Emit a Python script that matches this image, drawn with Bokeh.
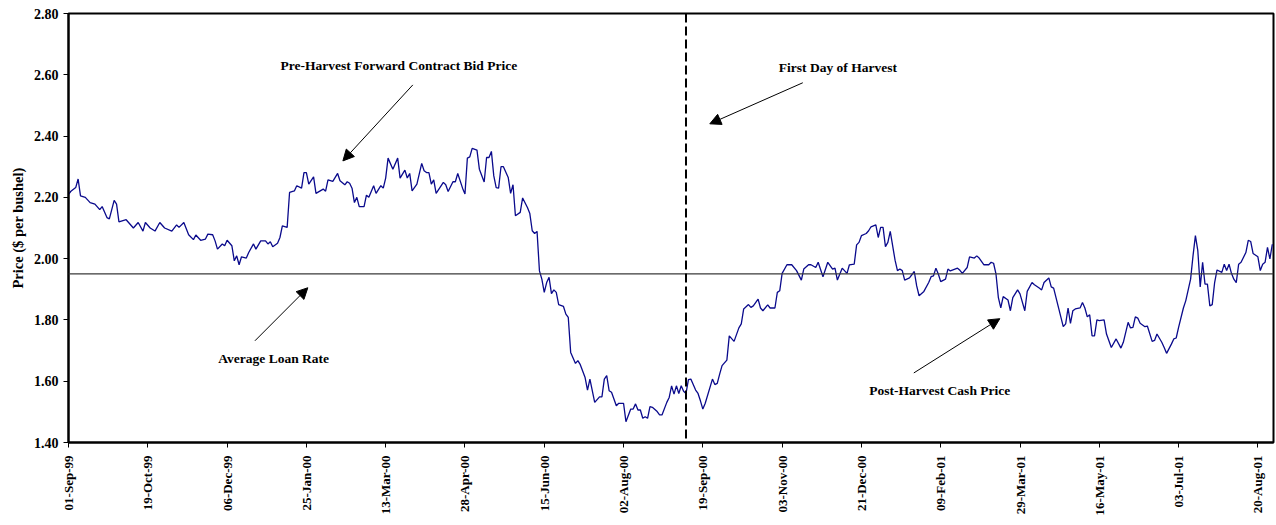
import math
from bokeh.plotting import figure
from bokeh.models import (Range1d, FixedTicker, Span, Label, Arrow, NormalHead,
                          PrintfTickFormatter)
from bokeh.embed import file_html
from bokeh.resources import INLINE

# ---- data (trading-day index, price $/bu) ----
days = [
    0, 1, 3, 4, 5, 7, 9, 11, 13, 14,
    16, 17, 19, 20, 21, 24, 27, 29, 31, 32,
    34, 36, 38, 40, 43, 45, 46, 48, 50, 52,
    53, 55, 57, 58, 60, 61, 62, 64, 65, 66,
    68, 69, 70, 71, 72, 74, 75, 77, 78, 80,
    82, 83, 84, 85, 87, 88, 89, 91, 92, 94,
    95, 97, 98, 99, 100, 102, 103, 106, 107, 108,
    110, 112, 113, 115, 116, 117, 118, 119, 120, 121,
    123, 124, 125, 127, 128, 130, 131, 132, 133, 135,
    137, 138, 140, 141, 142, 143, 145, 147, 148, 149,
    150, 151, 152, 153, 156, 157, 158, 160, 161, 162,
    164, 165, 166, 167, 168, 170, 171, 173, 174, 175,
    176, 177, 178, 179, 180, 181, 183, 184, 185, 186,
    188, 189, 191, 192, 193, 194, 195, 196, 197, 198,
    199, 200, 201, 202, 203, 204, 206, 207, 208, 209,
    211, 212, 213, 215, 216, 217, 219, 221, 222, 223,
    224, 225, 226, 227, 228, 229, 231, 232, 234, 235,
    236, 237, 238, 239, 240, 241, 242, 243, 245, 246,
    247, 249, 250, 251, 252, 253, 254, 255, 256, 257,
    258, 259, 261, 262, 263, 264, 265, 268, 269, 270,
    271, 272, 274, 275, 277, 279, 280, 281, 283, 284,
    285, 287, 288, 289, 291, 292, 294, 295, 296, 297,
    299, 301, 303, 305, 306, 308, 309, 311, 312, 314,
    316, 318, 319, 320, 322, 324, 325, 327, 328, 329,
    330, 332, 333, 334, 336, 337, 338, 339, 340, 341,
    342, 344, 345, 346, 347, 348, 350, 352, 353, 354,
    356, 358, 359, 360, 361, 362, 363, 365, 366, 367,
    370, 371, 372, 374, 375, 377, 378, 379, 381, 383,
    384, 385, 386, 387, 388, 389, 391, 392, 393, 395,
    396, 398, 399, 401, 402, 404, 405, 406, 408, 409,
    410, 412, 414, 415, 416, 417, 418, 419, 421, 422,
    423, 424, 425, 426, 427, 428, 429, 431, 432, 434,
    436, 438, 439, 441, 442, 443, 444, 445, 446, 448,
    449, 451, 452, 453, 455, 456, 457, 459, 460, 461,
    462, 464, 465, 467, 468, 469, 470, 471, 472, 473,
    474, 475, 476, 477, 478, 480, 481, 482, 483, 484,
    485, 486, 487, 488, 490, 491, 492, 493, 495, 496,
    497, 498, 499, 500, 501,
]
prices = [
    2.21, 2.22, 2.232, 2.26, 2.205, 2.20, 2.183, 2.178, 2.16, 2.17,
    2.134, 2.13, 2.19, 2.178, 2.12, 2.127, 2.10, 2.118, 2.09, 2.118,
    2.10, 2.09, 2.118, 2.10, 2.09, 2.11, 2.102, 2.118, 2.078, 2.062,
    2.077, 2.06, 2.064, 2.08, 2.078, 2.058, 2.031, 2.048, 2.042, 2.06,
    2.042, 1.993, 2.009, 1.98, 2.006, 2.002, 2.02, 2.048, 2.031, 2.058,
    2.058, 2.048, 2.055, 2.039, 2.05, 2.069, 2.107, 2.102, 2.216, 2.221,
    2.238, 2.23, 2.281, 2.281, 2.243, 2.267, 2.213, 2.227, 2.22, 2.257,
    2.252, 2.278, 2.254, 2.241, 2.251, 2.246, 2.23, 2.183, 2.20, 2.17,
    2.17, 2.207, 2.20, 2.238, 2.213, 2.238, 2.23, 2.263, 2.328, 2.292,
    2.328, 2.263, 2.289, 2.263, 2.278, 2.221, 2.243, 2.311, 2.287, 2.281,
    2.281, 2.243, 2.257, 2.213, 2.249, 2.241, 2.219, 2.251, 2.251, 2.278,
    2.23, 2.211, 2.328, 2.332, 2.36, 2.354, 2.292, 2.25, 2.33, 2.33,
    2.35, 2.27, 2.232, 2.23, 2.30, 2.30, 2.265, 2.213, 2.241, 2.14,
    2.151, 2.198, 2.167, 2.147, 2.091, 2.082, 2.089, 1.96, 1.933, 1.89,
    1.922, 1.939, 1.886, 1.898, 1.89, 1.85, 1.844, 1.819, 1.808, 1.694,
    1.658, 1.667, 1.654, 1.612, 1.571, 1.607, 1.531, 1.549, 1.549, 1.607,
    1.618, 1.569, 1.564, 1.542, 1.52, 1.528, 1.528, 1.468, 1.509, 1.509,
    1.526, 1.506, 1.506, 1.479, 1.484, 1.479, 1.517, 1.515, 1.501, 1.49,
    1.49, 1.531, 1.547, 1.585, 1.558, 1.585, 1.56, 1.585, 1.567, 1.56,
    1.605, 1.607, 1.571, 1.56, 1.536, 1.509, 1.528, 1.607, 1.589, 1.593,
    1.623, 1.651, 1.669, 1.748, 1.73, 1.774, 1.787, 1.836, 1.85, 1.841,
    1.846, 1.868, 1.839, 1.83, 1.849, 1.839, 1.839, 1.89, 1.895, 1.952,
    1.98, 1.98, 1.961, 1.93, 1.966, 1.98, 1.98, 1.971, 1.988, 1.941,
    1.988, 1.966, 1.969, 1.93, 1.969, 1.952, 1.98, 1.982, 2.045, 2.053,
    2.075, 2.082, 2.091, 2.104, 2.11, 2.069, 2.102, 2.102, 2.039, 2.053,
    2.089, 1.995, 1.961, 1.966, 1.961, 1.93, 1.937, 1.958, 1.911, 1.879,
    1.893, 1.922, 1.941, 1.944, 1.969, 1.95, 1.925, 1.933, 1.966, 1.96,
    1.969, 1.962, 1.952, 1.971, 2.006, 2.002, 2.009, 2.002, 1.98, 1.98,
    1.988, 1.985, 1.95, 1.873, 1.839, 1.876, 1.865, 1.83, 1.873, 1.898,
    1.885, 1.83, 1.893, 1.922, 1.915, 1.904, 1.898, 1.922, 1.937, 1.908,
    1.904, 1.841, 1.778, 1.787, 1.839, 1.789, 1.83, 1.836, 1.839, 1.857,
    1.839, 1.81, 1.817, 1.748, 1.748, 1.80, 1.798, 1.80, 1.754, 1.71,
    1.738, 1.708, 1.727, 1.792, 1.774, 1.776, 1.81, 1.806, 1.789, 1.778,
    1.78, 1.73, 1.733, 1.754, 1.727, 1.71, 1.691, 1.721, 1.738, 1.741,
    1.776, 1.839, 1.863, 1.933, 2.009, 2.075, 2.026, 1.908, 1.988, 1.917,
    1.917, 1.846, 1.85, 1.922, 1.963, 1.955, 1.982, 1.961, 1.982, 1.952,
    1.933, 1.922, 1.982, 1.988, 2.02, 2.06, 2.056, 2.017, 2.006, 1.961,
    1.982, 1.988, 2.037, 1.999, 2.047,
]
assert len(days) == len(prices)

tick_days = [0, 33, 66, 99, 132, 165, 198, 231, 264, 297, 330, 363, 396, 429, 462, 495]
tick_labels = ["01-Sep-99", "19-Oct-99", "06-Dec-99", "25-Jan-00", "13-Mar-00",
               "28-Apr-00", "15-Jun-00", "02-Aug-00", "19-Sep-00", "03-Nov-00",
               "21-Dec-00", "09-Feb-01", "29-Mar-01", "16-May-01", "03-Jul-01",
               "20-Aug-01"]
y_ticks = [1.4, 1.6, 1.8, 2.0, 2.2, 2.4, 2.6, 2.8]
loan_rate = 1.95
harvest_day = 257

FONT = "Liberation Serif"

p = figure(width=1275, height=524, output_backend="svg", toolbar_location=None,
           x_range=Range1d(0, 501.5), y_range=Range1d(1.4, 2.8),
           min_border_left=68, min_border_right=2, min_border_top=13,
           min_border_bottom=82)
p.background_fill_color = "white"
p.border_fill_color = "white"
p.outline_line_color = "black"
p.outline_line_width = 2
p.xgrid.visible = False
p.ygrid.visible = False

# series
p.line(days, prices, line_color="#0a0a8c", line_width=1.3)

# reference lines
p.add_layout(Span(location=loan_rate, dimension="width", line_color="#3a3a3a",
                  line_width=1.2))
p.add_layout(Span(location=harvest_day, dimension="height", line_color="black",
                  line_width=2, line_dash="9 4"))

# axes
p.xaxis.ticker = FixedTicker(ticks=tick_days)
p.xaxis.major_label_overrides = {d: l for d, l in zip(tick_days, tick_labels)}
p.xaxis.major_label_orientation = math.pi / 2
p.yaxis.ticker = FixedTicker(ticks=y_ticks)
p.yaxis.formatter = PrintfTickFormatter(format="%.2f")
for ax in (p.xaxis[0], p.yaxis[0]):
    ax.axis_line_width = 2
    ax.axis_line_color = "black"
    ax.major_tick_line_color = "black"
    ax.major_tick_line_width = 1
    ax.major_tick_out = 5
    ax.major_tick_in = 0
    ax.minor_tick_line_color = None
    ax.major_label_text_font = FONT
    ax.major_label_text_font_style = "bold"
    ax.major_label_text_color = "black"
    ax.major_label_standoff = 5
p.xaxis.major_label_standoff = 8
p.xaxis.major_label_text_font_size = "13px"
p.yaxis.major_label_text_font_size = "14px"
p.yaxis.axis_label = "Price ($ per bushel)"
p.yaxis.axis_label_text_font = FONT
p.yaxis.axis_label_text_font_style = "bold"
p.yaxis.axis_label_text_font_size = "14.5px"
p.yaxis.axis_label_text_color = "black"
p.yaxis.axis_label_standoff = 5

# annotations
def note(x, y, text):
    p.add_layout(Label(x=x, y=y, text=text, text_align="center", text_baseline="middle",
                       text_font=FONT, text_font_style="bold", text_font_size="13.5px",
                       text_color="black"))

def arrow(x0, y0, x1, y1):
    p.add_layout(Arrow(end=NormalHead(size=11, fill_color="black", line_color="black"),
                       x_start=x0, y_start=y0, x_end=x1, y_end=y1,
                       line_color="black", line_width=1))

note(137.5, 2.629, "Pre-Harvest Forward Contract Bid Price")
arrow(143.3, 2.567, 114.2, 2.319)
note(320.2, 2.623, "First Day of Harvest")
arrow(305.6, 2.574, 266.9, 2.44)
note(85.4, 1.673, "Average Loan Rate")
arrow(77.6, 1.732, 99.6, 1.905)
note(362.6, 1.569, "Post-Harvest Cash Price")
arrow(351.8, 1.627, 387.6, 1.804)

open("out.html", "w").write(file_html(p, INLINE))
